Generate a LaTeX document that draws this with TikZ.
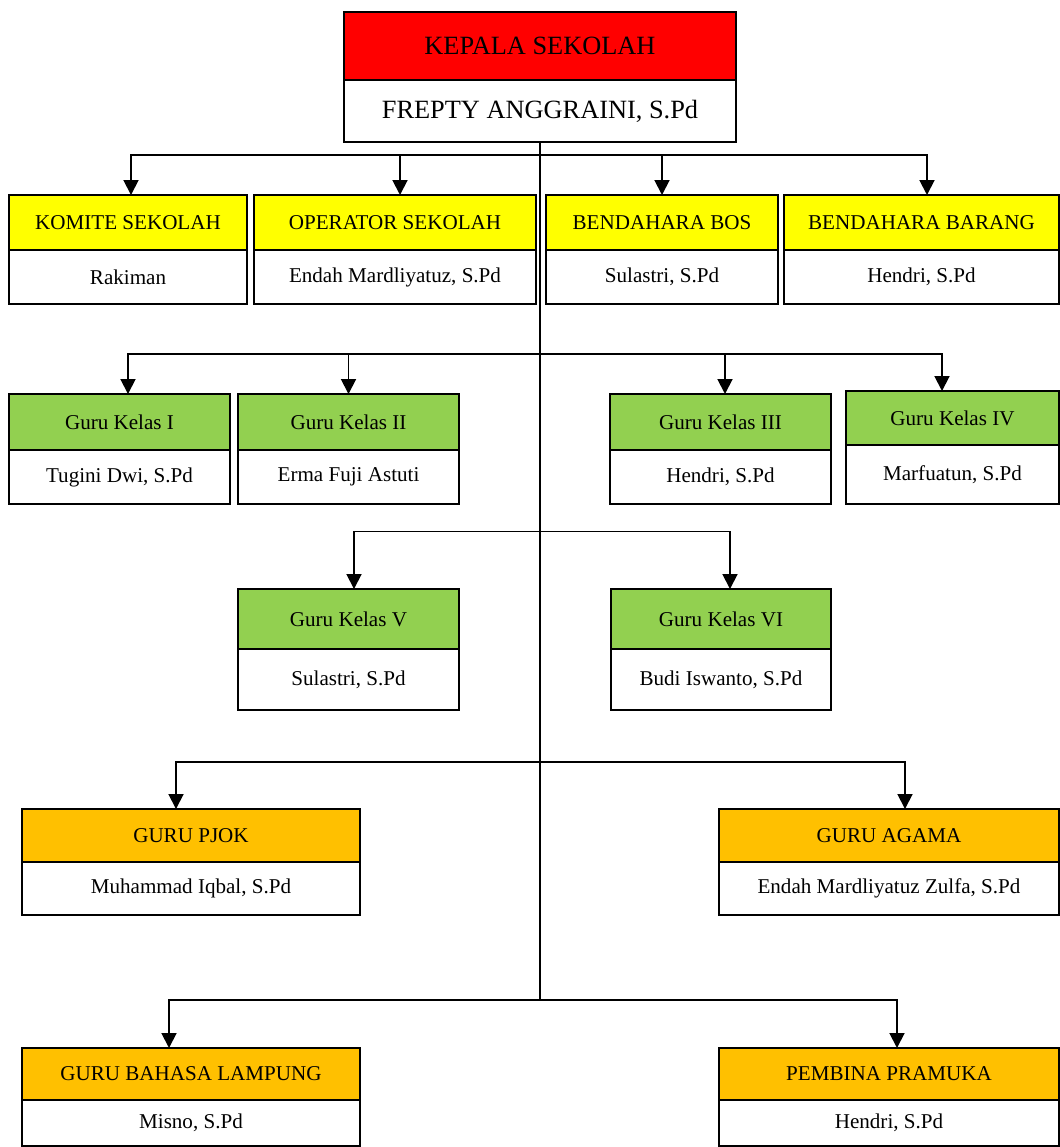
\documentclass[tikz,border=0pt]{standalone}
\usepackage{fontspec}
\setmainfont{Liberation Serif}
\usetikzlibrary{positioning,arrows.meta}

\definecolor{kepalared}{HTML}{FF0000}
\definecolor{stafyellow}{HTML}{FFFF00}
\definecolor{kelasgreen}{HTML}{92D050}
\definecolor{guruorange}{HTML}{FFC000}

\tikzset{
    box/.style={draw, line width=1.2pt, inner sep=0pt, outer sep=0pt,
        anchor=center, font=\fontsize{12}{14}\selectfont},
    kepala/.style={box, fill=kepalared, font=\fontsize{15}{18}\selectfont,
        minimum width=7.84cm},
    staf/.style={box, fill=stafyellow},
    kelas/.style={box, fill=kelasgreen},
    guru/.style={box, fill=guruorange},
    nama/.style={box, fill=white},
    link/.style={line width=1.1pt},
    arr/.style={link, -{Triangle[width=8.5pt,length=8.5pt]}}
}

\begin{document}
\begin{tikzpicture}[x=0.02cm, y=-0.02cm]
    \useasboundingbox (0,0) rectangle (1060,1147);

    % kepala sekolah
    \node[kepala, minimum height=1.36cm] (kepala) at (540,46) {KEPALA SEKOLAH};
    \node[kepala, fill=white, minimum height=1.24cm, below=0pt of kepala] (kepala nama)
        {FREPTY ANGGRAINI, S.Pd};

    % staf
    \node[staf, minimum width=4.76cm, minimum height=1.1cm] (komite) at (128,222.5) {KOMITE SEKOLAH};
    \node[nama, minimum width=4.76cm, minimum height=1.08cm, below=0pt of komite] (komite nama) {Rakiman};
    \node[staf, minimum width=5.64cm, minimum height=1.1cm] (operator) at (395,222.5) {OPERATOR SEKOLAH};
    \node[nama, minimum width=5.64cm, minimum height=1.08cm, below=0pt of operator] (operator nama) {Endah Mardliyatuz, S.Pd};
    \node[staf, minimum width=4.64cm, minimum height=1.1cm] (bos) at (662,222.5) {BENDAHARA BOS};
    \node[nama, minimum width=4.64cm, minimum height=1.08cm, below=0pt of bos] (bos nama) {Sulastri, S.Pd};
    \node[staf, minimum width=5.5cm, minimum height=1.1cm] (barang) at (921.5,222.5) {BENDAHARA BARANG};
    \node[nama, minimum width=5.5cm, minimum height=1.08cm, below=0pt of barang] (barang nama) {Hendri, S.Pd};

    % guru kelas I - IV
    \node[kelas, minimum width=4.42cm, minimum height=1.12cm] (kelas1) at (119.5,422) {Guru Kelas I};
    \node[nama, minimum width=4.42cm, minimum height=1.08cm, below=0pt of kelas1] (kelas1 nama) {Tugini Dwi, S.Pd};
    \node[kelas, minimum width=4.42cm, minimum height=1.12cm] (kelas2) at (348.5,422) {Guru Kelas II};
    \node[nama, minimum width=4.42cm, minimum height=1.08cm, below=0pt of kelas2] (kelas2 nama) {Erma Fuji Astuti};
    \node[kelas, minimum width=4.42cm, minimum height=1.12cm] (kelas3) at (720.5,422) {Guru Kelas III};
    \node[nama, minimum width=4.42cm, minimum height=1.08cm, below=0pt of kelas3] (kelas3 nama) {Hendri, S.Pd};
    \node[kelas, minimum width=4.26cm, minimum height=1.08cm] (kelas4) at (952.5,418) {Guru Kelas IV};
    \node[nama, minimum width=4.26cm, minimum height=1.18cm, below=0pt of kelas4] (kelas4 nama) {Marfuatun, S.Pd};

    % guru kelas V - VI
    \node[kelas, minimum width=4.42cm, minimum height=1.2cm] (kelas5) at (348.5,619) {Guru Kelas V};
    \node[nama, minimum width=4.42cm, minimum height=1.22cm, below=0pt of kelas5] (kelas5 nama) {Sulastri, S.Pd};
    \node[kelas, minimum width=4.4cm, minimum height=1.2cm] (kelas6) at (721,619) {Guru Kelas VI};
    \node[nama, minimum width=4.4cm, minimum height=1.22cm, below=0pt of kelas6] (kelas6 nama) {Budi Iswanto, S.Pd};

    % guru mapel
    \node[guru, minimum width=6.76cm, minimum height=1.06cm] (pjok) at (191,835.5) {GURU PJOK};
    \node[nama, minimum width=6.76cm, minimum height=1.06cm, below=0pt of pjok] (pjok nama) {Muhammad Iqbal, S.Pd};
    \node[guru, minimum width=6.8cm, minimum height=1.06cm] (agama) at (889,835.5) {GURU AGAMA};
    \node[nama, minimum width=6.8cm, minimum height=1.06cm, below=0pt of agama] (agama nama) {Endah Mardliyatuz Zulfa, S.Pd};
    \node[guru, minimum width=6.76cm, minimum height=1.04cm] (lampung) at (191,1074) {GURU BAHASA LAMPUNG};
    \node[nama, minimum width=6.76cm, minimum height=0.92cm, below=0pt of lampung] (lampung nama) {Misno, S.Pd};
    \node[guru, minimum width=6.8cm, minimum height=1.04cm] (pramuka) at (889,1074) {PEMBINA PRAMUKA};
    \node[nama, minimum width=6.8cm, minimum height=0.92cm, below=0pt of pramuka] (pramuka nama) {Hendri, S.Pd};

    % garis
    \coordinate (cabang1) at (540,155);
    \coordinate (cabang2) at (540,354);
    \coordinate (cabang3) at (540,531.5);
    \coordinate (cabang4) at (540,762);
    \coordinate (cabang5) at (540,1000);
    \draw[link] (kepala nama.south) -- (cabang5);

    \draw[arr] (cabang1) -| ([xshift=0.06cm]komite.north);
    \draw[arr] (cabang1) -| ([xshift=0.1cm]operator.north);
    \draw[arr] (cabang1) -| (bos.north);
    \draw[arr] (cabang1) -| ([xshift=0.11cm]barang.north);

    \draw[arr] (cabang2) -| ([xshift=0.17cm]kelas1.north);
    \draw[arr] (cabang2) -| (kelas2.north);
    \draw[arr] (cabang2) -| ([xshift=0.09cm]kelas3.north);
    \draw[arr] (cabang2) -| ([xshift=-0.21cm]kelas4.north);

    \draw[arr] (cabang3) -| ([xshift=0.11cm]kelas5.north);
    \draw[arr] (cabang3) -| ([xshift=0.18cm]kelas6.north);

    \draw[arr] (cabang4) -| ([xshift=-0.3cm]pjok.north);
    \draw[arr] (cabang4) -| ([xshift=0.32cm]agama.north);

    \draw[arr] (cabang5) -| ([xshift=-0.44cm]lampung.north);
    \draw[arr] (cabang5) -| ([xshift=0.16cm]pramuka.north);
\end{tikzpicture}
\end{document}
